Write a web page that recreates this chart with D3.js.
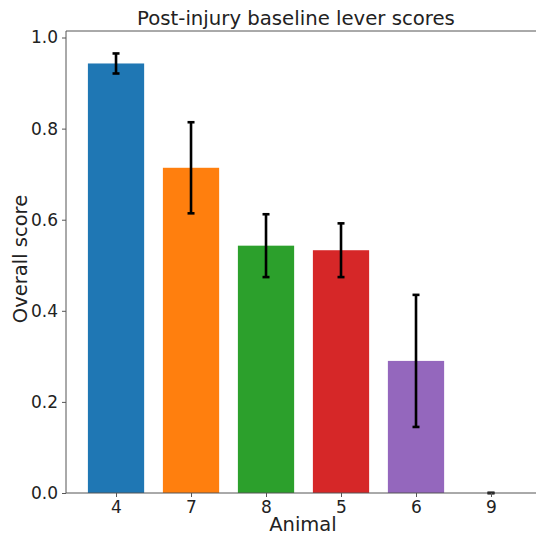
<!DOCTYPE html>
<html>
<head>
<meta charset="utf-8">
<script src="https://cdn.jsdelivr.net/npm/d3@7"></script>
<style>
  html, body { margin: 0; padding: 0; background: #fff; }
  svg { display: block; font-family: "DejaVu Sans", sans-serif; }
</style>
</head>
<body>
<svg id="chart" width="536" height="535"></svg>
<script>
// Post-injury baseline lever scores per animal
const animals = ["4", "7", "8", "5", "6", "9"];
const scores = [0.943, 0.714, 0.543, 0.533, 0.290, 0.0];
const errors = [0.022, 0.100, 0.069, 0.059, 0.145, 0.0];
const colors = ["#1f77b4", "#ff7f0e", "#2ca02c", "#d62728", "#9467bd", "#8c564b"];
const yTicks = [0.0, 0.2, 0.4, 0.6, 0.8, 1.0];

const svg = d3.select("#chart");
const W = 536, H = 535;
const margin = { left: 66, top: 31, bottom: 42 };
// The axes box runs past the right edge of the figure
const plotW = 476;
const plotH = H - margin.top - margin.bottom;

// Positional x scale: category index -> pixel
const xIdx = d3.scaleLinear().domain([-0.667, 5.68]).range([0, plotW]);
const step = xIdx(1) - xIdx(0);
const barW = step * 0.75;

const y = d3.scaleLinear().domain([0, 1.0143]).range([plotH, 0]);

const g = svg.append("g").attr("transform", `translate(${margin.left},${margin.top})`);

// Bars
g.selectAll("rect.bar").data(animals).join("rect")
  .attr("class", "bar")
  .attr("x", (d, i) => xIdx(i) - barW / 2)
  .attr("width", barW)
  .attr("y", (d, i) => y(scores[i]))
  .attr("height", (d, i) => y(0) - y(scores[i]))
  .attr("fill", (d, i) => colors[i]);

// Error bars with caps
const eb = g.selectAll("g.err").data(animals).join("g").attr("class", "err");
eb.append("line")
  .attr("x1", (d, i) => xIdx(i)).attr("x2", (d, i) => xIdx(i))
  .attr("y1", (d, i) => y(scores[i] - errors[i]))
  .attr("y2", (d, i) => y(scores[i] + errors[i]))
  .attr("stroke", "#000").attr("stroke-width", 2.6);
[1, -1].forEach(s => {
  eb.append("line")
    .attr("x1", (d, i) => xIdx(i) - 3.5).attr("x2", (d, i) => xIdx(i) + 3.5)
    .attr("y1", (d, i) => y(scores[i] + s * errors[i]))
    .attr("y2", (d, i) => y(scores[i] + s * errors[i]))
    .attr("stroke", "#000").attr("stroke-width", 2.6);
});

// Spines (left, top, bottom)
const spine = [[0, 0, 0, plotH], [0, 0, plotW, 0], [0, plotH, plotW, plotH]];
g.selectAll("line.spine").data(spine).join("line").attr("class", "spine")
  .attr("x1", d => d[0]).attr("y1", d => d[1]).attr("x2", d => d[2]).attr("y2", d => d[3])
  .attr("stroke", "#555").attr("stroke-width", 1);

// Y axis
const yAxis = d3.axisLeft(y).tickValues(yTicks).tickFormat(d3.format(".1f")).tickSize(4).tickPadding(4);
const ya = g.append("g").call(yAxis);
ya.select(".domain").remove();
ya.selectAll("line").attr("stroke", "#555");
ya.selectAll("text").attr("font-size", 17).attr("fill", "#222").attr("font-family", "DejaVu Sans");

// X axis
const xAxis = d3.axisBottom(xIdx).tickValues(d3.range(animals.length))
  .tickFormat(i => animals[i]).tickSize(4).tickPadding(4);
const xa = g.append("g").attr("transform", `translate(0,${plotH})`).call(xAxis);
xa.select(".domain").remove();
xa.selectAll("line").attr("stroke", "#555");
xa.selectAll("text").attr("font-size", 17).attr("fill", "#222").attr("font-family", "DejaVu Sans");

// Titles
svg.append("text").attr("x", 296).attr("y", 25)
  .attr("text-anchor", "middle").attr("font-size", 19.7).attr("fill", "#222")
  .text("Post-injury baseline lever scores");
svg.append("text").attr("x", 303).attr("y", 531)
  .attr("text-anchor", "middle").attr("font-size", 19.5).attr("fill", "#222")
  .text("Animal");
svg.append("text").attr("transform", `translate(27,259) rotate(-90)`)
  .attr("text-anchor", "middle").attr("font-size", 19.5).attr("fill", "#222")
  .text("Overall score");
</script>
</body>
</html>
